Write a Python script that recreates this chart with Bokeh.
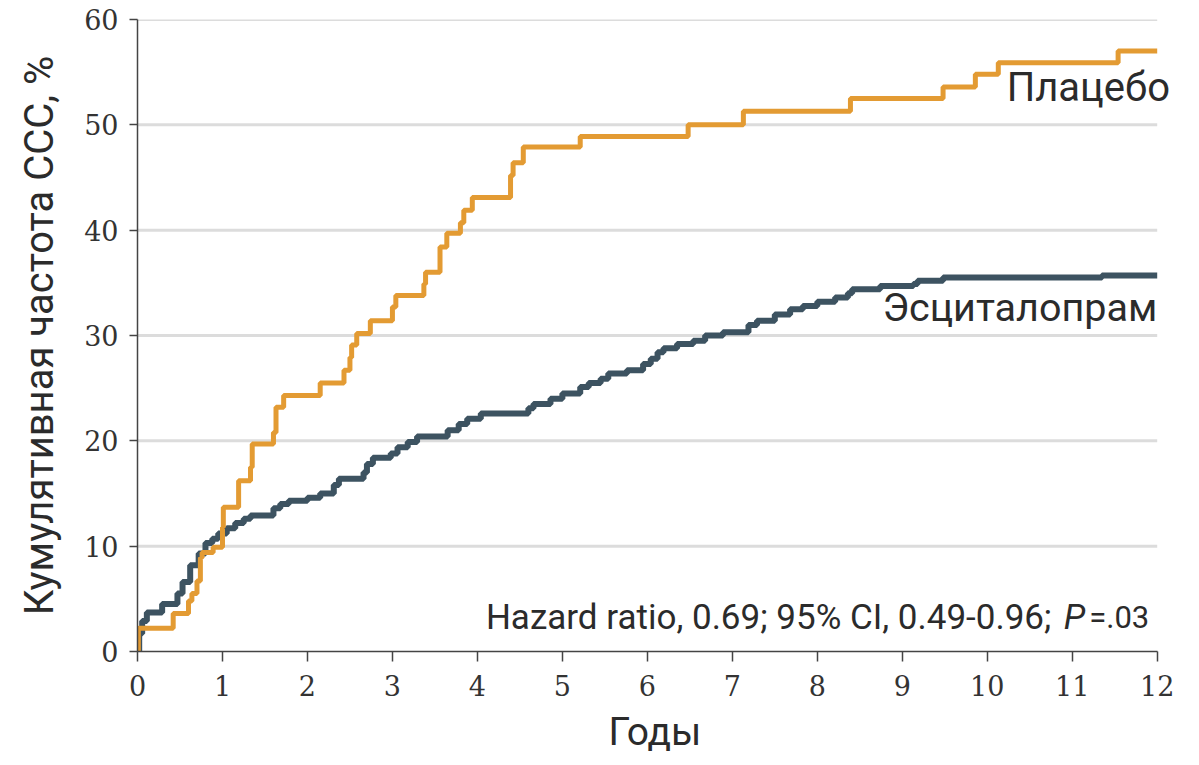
from bokeh.plotting import figure
from bokeh.models import Range1d, FixedTicker, Label
from bokeh.embed import file_html
from bokeh.resources import INLINE

# ---- data ----
placebo_t = [0, 0.01, 0.42, 0.60, 0.64, 0.70, 0.74, 0.76, 0.89, 1.00, 1.01, 1.19, 1.33, 1.35,
             1.60, 1.63, 1.72, 2.15, 2.43, 2.50, 2.52, 2.58, 2.74, 3.00, 3.04, 3.37, 3.39,
             3.56, 3.64, 3.80, 3.84, 3.94, 4.39, 4.42, 4.54, 5.21, 6.48, 7.13, 8.39, 9.48,
             9.86, 10.13, 11.54, 12.0]
placebo_y = [0, 2.2, 3.6, 4.8, 5.5, 6.7, 8.9, 9.4, 9.9, 11.8, 13.7, 16.2, 17.5, 19.7,
             20.8, 23.2, 24.3, 25.5, 26.7, 27.9, 29.1, 30.2, 31.4, 32.7, 33.8, 34.9, 36.0,
             38.4, 39.7, 40.7, 41.9, 43.1, 45.2, 46.4, 47.9, 48.9, 50.0, 51.3, 52.5, 53.6,
             54.8, 55.9, 57.0, 57.0]

escit_t = [0, 0.02, 0.055, 0.11, 0.29, 0.47, 0.53, 0.62, 0.72, 0.80, 0.88, 0.95, 1.05, 1.15,
           1.25, 1.33, 1.60, 1.68, 1.78, 2.00, 2.15, 2.31, 2.37, 2.66, 2.70, 2.77, 2.98, 3.06,
           3.18, 3.29, 3.65, 3.78, 3.88, 4.04, 4.60, 4.66, 4.86, 5.00, 5.21, 5.31, 5.45, 5.54,
           5.76, 5.95, 6.04, 6.12, 6.19, 6.35, 6.54, 6.68, 6.89, 7.19, 7.29, 7.50, 7.68, 7.83,
           8.00, 8.21, 8.36, 8.41, 8.74, 9.13, 9.18, 9.48, 11.35, 12.0]
escit_y = [0, 1.7, 2.9, 3.7, 4.5, 5.5, 6.6, 8.2, 9.3, 10.3, 10.7, 11.2, 11.7, 12.2,
           12.6, 12.9, 13.6, 14.0, 14.3, 14.6, 15.0, 15.8, 16.4, 17.0, 17.8, 18.4, 18.8, 19.4,
           19.9, 20.4, 21.0, 21.6, 22.1, 22.6, 23.1, 23.5, 24.0, 24.5, 25.1, 25.5, 25.9, 26.4,
           26.7, 27.3, 27.8, 28.4, 28.8, 29.2, 29.5, 30.0, 30.3, 31.0, 31.4, 32.0, 32.5, 32.8,
           33.2, 33.6, 34.0, 34.4, 34.7, 34.9, 35.2, 35.5, 35.7, 35.7]

x_ticks = list(range(0, 13))
y_ticks = [0, 10, 20, 30, 40, 50, 60]
grid_levels = [10, 20, 30, 40, 50, 60]
x_max = 12

x_label = "Годы"
y_label = "Кумулятивная частота ССС, %"
placebo_name = "Плацебо"
escit_name = "Эсциталопрам"
hr_text = "Hazard ratio, 0.69; 95% CI, 0.49-0.96;"
p_text = "P"
p_val = "=.03"

ORANGE = "#E39B33"
DARK = "#3D5361"
TEXT = "#2b2b2b"
SANS = "Roboto"
SERIF = "DejaVu Serif"

p = figure(width=1199, height=765, output_backend="svg", toolbar_location=None,
           x_range=Range1d(0, 12.18), y_range=Range1d(0, 60),
           min_border_left=137, min_border_right=27, min_border_top=19, min_border_bottom=114)
p.outline_line_color = None
p.background_fill_color = "white"
p.xgrid.visible = False
p.ygrid.visible = False

# horizontal grid lines spanning 0..12
p.segment(x0=[0] * len(grid_levels), x1=[x_max] * len(grid_levels), y0=grid_levels, y1=grid_levels,
          line_color="#DCDCDC", line_width=3)

p.step(escit_t, escit_y, mode="after", line_color=DARK, line_width=6)
p.step(placebo_t, placebo_y, mode="after", line_color=ORANGE, line_width=5)

for ax, ticks in ((p.xaxis, x_ticks), (p.yaxis, y_ticks)):
    ax.ticker = FixedTicker(ticks=ticks)
    ax.axis_line_color = "#444444"
    ax.axis_line_width = 1.5
    ax.major_tick_line_color = "#444444"
    ax.major_tick_line_width = 1.5
    ax.major_tick_in = 0
    ax.minor_tick_line_color = None
    ax.major_label_text_font = SERIF
    ax.major_label_text_font_size = "27px"
    ax.major_label_text_color = "#333333"
    ax.axis_label_text_font = SANS
    ax.axis_label_text_font_style = "normal"
    ax.axis_label_text_color = TEXT

p.xaxis.bounds = (0, x_max)
p.xaxis.major_tick_out = 10
p.yaxis.major_tick_out = 8
p.xaxis.major_label_standoff = 13
p.yaxis.major_label_standoff = 11
p.xaxis.axis_label = x_label
p.yaxis.axis_label = y_label
p.xaxis.axis_label_text_font_size = "39px"
p.yaxis.axis_label_text_font_size = "40px"
p.xaxis.axis_label_standoff = 10
p.yaxis.axis_label_standoff = 18

p.add_layout(Label(x=12.15, y=53.5, text=placebo_name, text_font=SANS, text_font_size="40px",
                   text_color=TEXT, text_align="right", text_baseline="middle"))
p.add_layout(Label(x=12.0, y=32.7, text=escit_name, text_font=SANS, text_font_size="39.5px",
                   text_color=TEXT, text_align="right", text_baseline="middle"))

p.add_layout(Label(x=4.1, y=3.2, text=hr_text, text_font=SANS, text_font_size="35px",
                   text_color=TEXT, text_align="left", text_baseline="middle"))
p.add_layout(Label(x=10.9, y=3.2, text=p_text, text_font=SANS, text_font_size="35px",
                   text_font_style="italic", text_color=TEXT, text_align="left", text_baseline="middle"))
p.add_layout(Label(x=11.2, y=3.2, text=p_val, text_font=SANS, text_font_size="31px",
                   text_color=TEXT, text_align="left", text_baseline="middle"))

open("out.html", "w").write(file_html(p, INLINE))
